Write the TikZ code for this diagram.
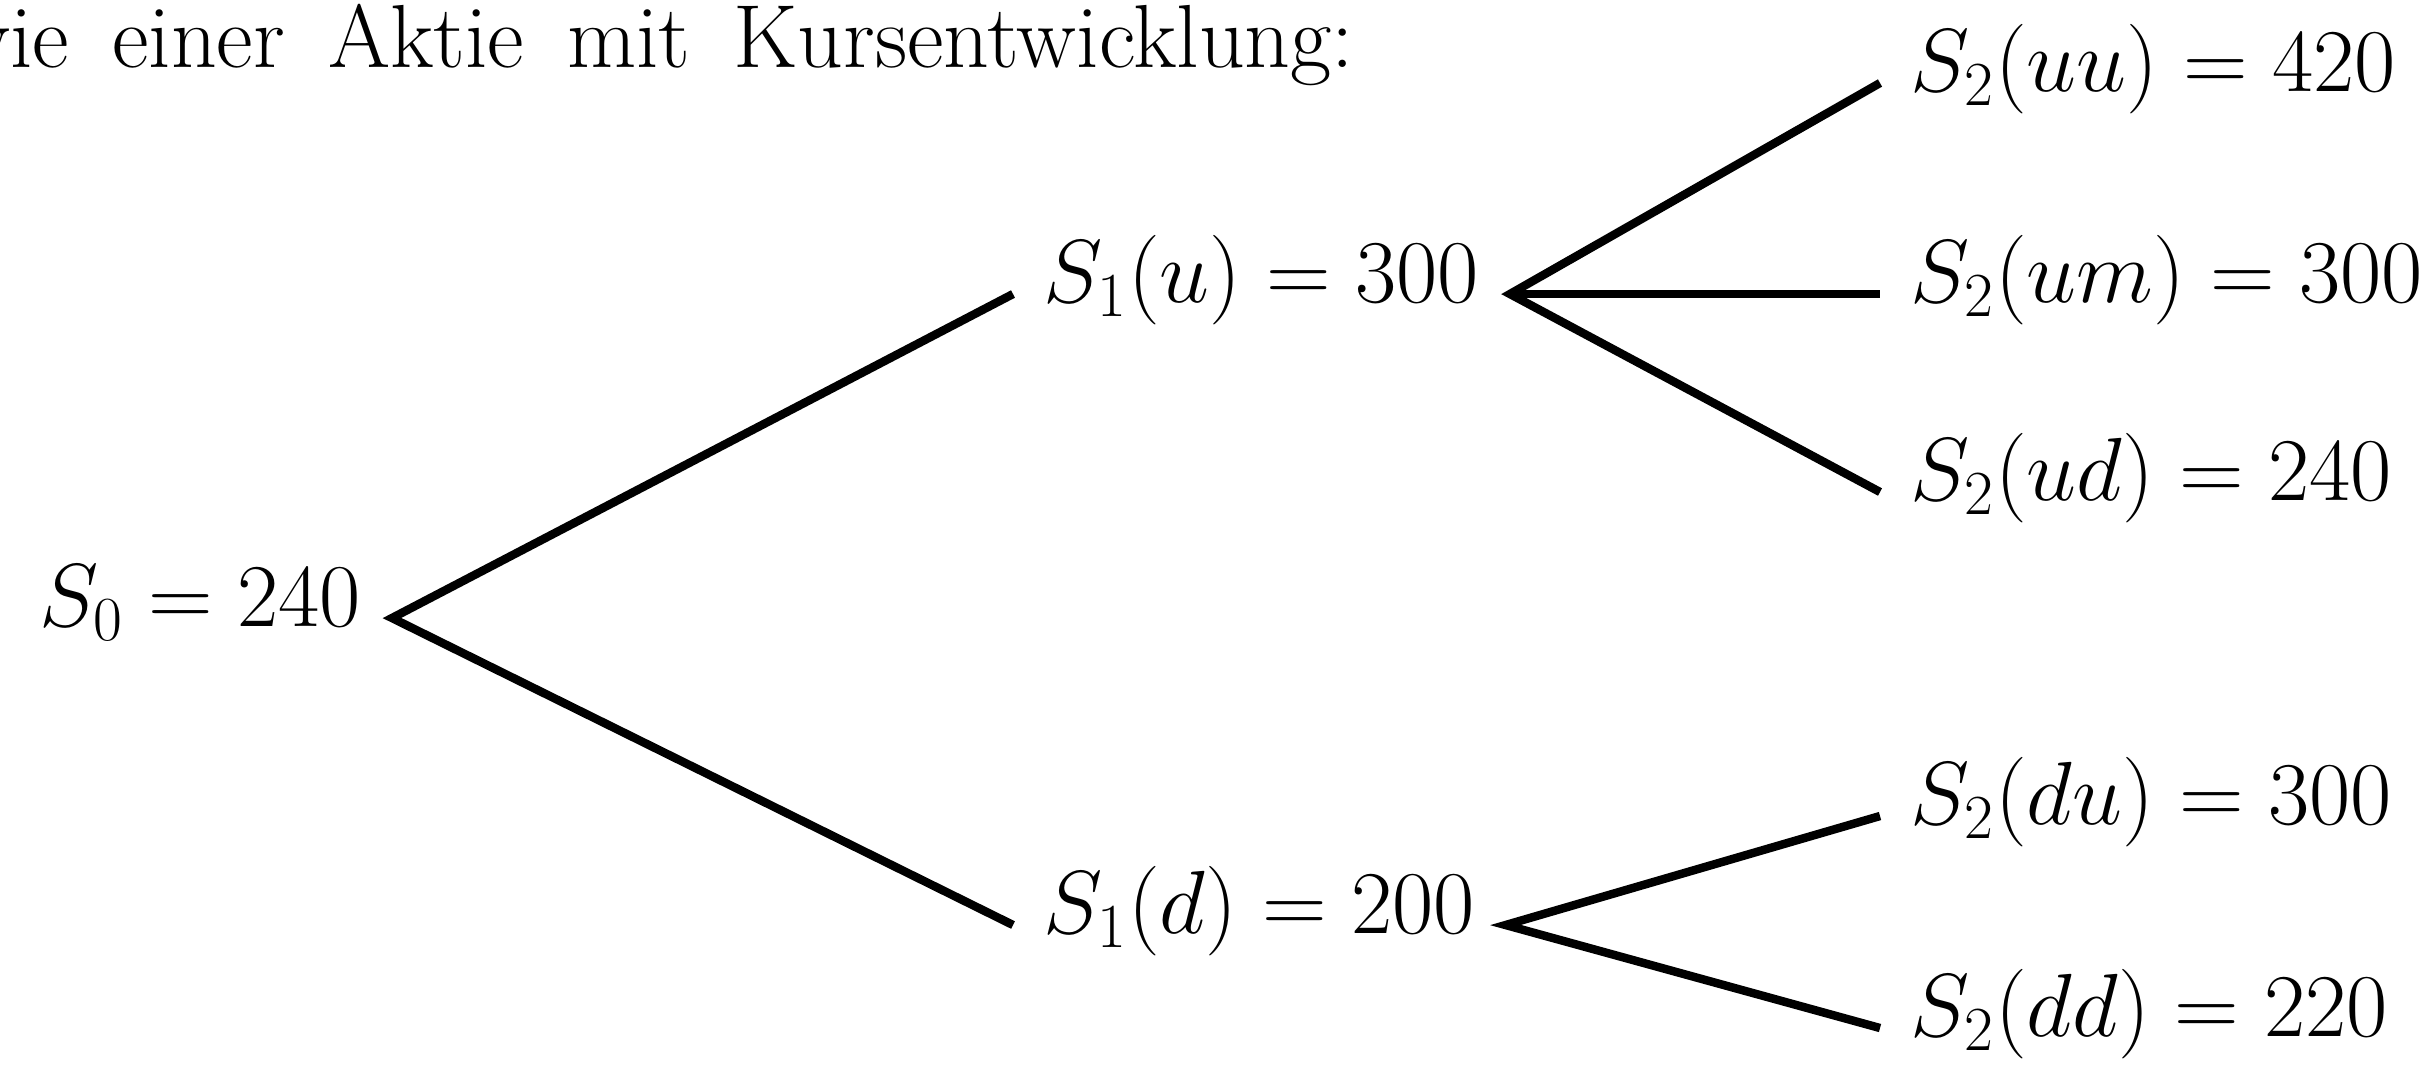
\RequirePackage{fix-cm}
\documentclass[tikz,border=0pt]{standalone}
\usepackage{amsmath}
\usepackage{tikz}
\tikzset{
  kurs/.style={inner xsep=0.3cm,inner ysep=0pt,text height=0.75em,text depth=0.25em,font=\fontsize{25.5}{31}\selectfont},
  ast/.style={line width=2.4pt,black}
}
\begin{document}
\begin{tikzpicture}
\useasboundingbox (0,0) rectangle (24.31,-10.64);
\clip (0,0) rectangle (24.31,-10.64);
% Kopfzeile, links angeschnitten
\node[anchor=base west,inner sep=0pt,font=\fontsize{25.5}{31}\selectfont] (kopf) at (-0.5,-0.67) {\spaceskip=0.48em wie einer Aktie mit Kursentwicklung:};
% Kurse
\node[kurs,anchor=east] (s0) at (3.92,-6.18) {$S_0 = 240$};
\node[kurs,anchor=west] (s1u) at (10.13,-2.94) {$S_1(u) = 300$};
\node[kurs,anchor=west] (s1d) at (10.13,-9.25) {$S_1(d) = 200$};
\node[kurs,anchor=west] (s2uu) at (18.8,-0.83) {$S_2(uu) = 420$};
\node[kurs,anchor=west] (s2um) at (18.8,-2.94) {$S_2(um) = 300$};
\node[kurs,anchor=west] (s2ud) at (18.8,-4.92) {$S_2(ud) = 240$};
\node[kurs,anchor=west] (s2du) at (18.8,-8.16) {$S_2(du) = 300$};
\node[kurs,anchor=west] (s2dd) at (18.8,-10.28) {$S_2(dd) = 220$};
% Aeste
\draw[ast] (s1u.west) -- (s0.east) -- (s1d.west);
\draw[ast] (s2uu.west) -- (s1u.east) -- (s2ud.west);
\draw[ast] (s1u.east) -- (s2um.west);
\draw[ast] (s2du.west) -- (s1d.east) -- (s2dd.west);
\end{tikzpicture}
\end{document}
